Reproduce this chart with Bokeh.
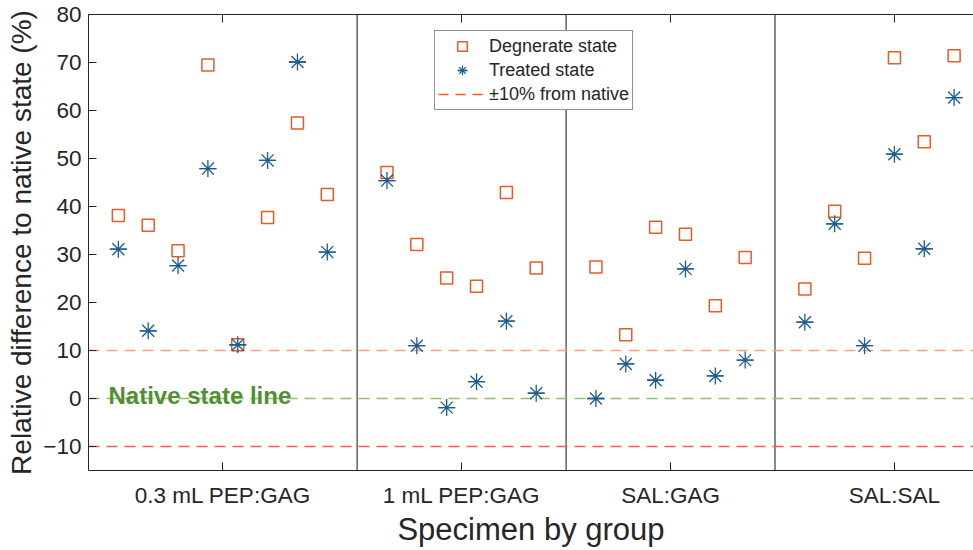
from bokeh.plotting import figure
from bokeh.models import (Range1d, FixedTicker, LinearAxis, Span, Label,
                          Legend, LegendItem, ColumnDataSource,
                          CustomJSTickFormatter)
from bokeh.embed import file_html
from bokeh.resources import INLINE

# ---------------- data ----------------
groups = ["0.3 mL PEP:GAG", "1 mL PEP:GAG", "SAL:GAG", "SAL:SAL"]
group_tick_pos = [4.5, 12.5, 19.5, 27.0]
separators = [9, 16, 23]
specimen_pos = [1, 2, 3, 4, 5, 6, 7, 8,
                10, 11, 12, 13, 14, 15,
                17, 18, 19, 20, 21, 22,
                24, 25, 26, 27, 28, 29]
degenerate = [38.1, 36.1, 30.8, 69.5, 11.2, 37.7, 57.4, 42.5,
              47.1, 32.1, 25.1, 23.4, 42.9, 27.2,
              27.4, 13.3, 35.7, 34.2, 19.3, 29.4,
              22.8, 39.0, 29.2, 71.0, 53.5, 71.4]
treated = [31.1, 14.1, 27.7, 47.9, 11.2, 49.6, 70.1, 30.5,
           45.4, 11.0, -1.9, 3.5, 16.1, 1.1,
           0.0, 7.2, 3.8, 27.0, 4.7, 8.0,
           15.9, 36.4, 11.0, 50.9, 31.2, 62.7]
y_ticks = [-10, 0, 10, 20, 30, 40, 50, 60, 70, 80]
tolerance = [10, -10]
native = 0

FONT = "Liberation Sans"
INK = "#262626"
SQ_COLOR = "#e85a26"
ST_COLOR = "#1c5d8e"

src = ColumnDataSource(data=dict(x=specimen_pos, deg=degenerate, trt=treated))

p = figure(width=973, height=550,
           x_range=Range1d(0, 29.65), y_range=Range1d(-15, 80),
           output_backend="svg", toolbar_location=None,
           min_border_left=88, min_border_right=0,
           min_border_top=14, min_border_bottom=80,
           outline_line_color=None, background_fill_color="white",
           border_fill_color="white")
p.grid.visible = False

# ---- axes ----
xa = p.xaxis[0]
xa.ticker = FixedTicker(ticks=group_tick_pos)
xa.major_label_overrides = {t: g for t, g in zip(group_tick_pos, groups)}
xa.axis_label = "Specimen by group"
ya = p.yaxis[0]
ya.ticker = FixedTicker(ticks=y_ticks)
ya.axis_label = "Relative difference to native state (%)"

for ax in (xa, ya):
    ax.major_tick_in = 8
    ax.major_tick_out = 0
    ax.minor_tick_line_color = None
    ax.axis_line_color = INK
    ax.major_tick_line_color = INK
    ax.major_label_text_font = FONT
    ax.major_label_text_font_size = "22.5px"
    ax.major_label_text_color = INK
    ax.axis_label_text_font = FONT
    ax.axis_label_text_font_style = "normal"
    ax.axis_label_text_color = INK

xa.major_label_standoff = 12
xa.axis_label_text_font_size = "31px"
xa.axis_label_standoff = 1
ya.major_label_standoff = 7
ya.axis_label_text_font_size = "28px"
ya.axis_label_standoff = 3

top = LinearAxis(ticker=FixedTicker(ticks=group_tick_pos),
                 formatter=CustomJSTickFormatter(code="return ''"),
                 major_label_text_font_size="1px", major_label_standoff=0,
                 major_tick_in=8, major_tick_out=0,
                 minor_tick_line_color=None,
                 axis_line_color=INK, major_tick_line_color=INK)
p.add_layout(top, "above")

# ---- reference lines ----
for s in separators:
    p.add_layout(Span(location=s, dimension="height", line_color="#3c3c3c",
                      line_width=1.2, level="underlay"))
p.add_layout(Span(location=tolerance[0], dimension="width", line_color="#f9a081",
                  line_dash="11 7", line_width=1.7, level="underlay"))
p.add_layout(Span(location=tolerance[1], dimension="width", line_color="#ff5656",
                  line_dash="11 7", line_width=1.7, level="underlay"))
p.add_layout(Span(location=native, dimension="width", line_color="#8fc06c",
                  line_dash="11 7", line_width=1.7, level="underlay"))

p.add_layout(Label(x=0.67, y=0.6, text="Native state line", text_font=FONT,
                   text_font_style="bold", text_font_size="24px",
                   text_color="#4f9030", text_baseline="alphabetic"))

# ---- markers ----
sq = p.scatter("x", "deg", source=src, marker="square", size=12,
               fill_color=None, line_color=SQ_COLOR, line_width=1.5)
st1 = p.scatter("x", "trt", source=src, marker="asterisk", size=17,
                line_color=ST_COLOR, line_width=1.3)
st2 = p.scatter("x", "trt", source=src, marker="dash", size=17,
                line_color=ST_COLOR, line_width=1.3)
tol = p.line(x=[float("nan")], y=[float("nan")], line_color="#ff5a14",
             line_dash="10 7", line_width=1.6)

legend = Legend(items=[LegendItem(label="Degnerate state", renderers=[sq]),
                       LegendItem(label="Treated state", renderers=[st1, st2]),
                       LegendItem(label="±10% from native", renderers=[tol])],
                location=(346, 360), orientation="vertical",
                margin=0, padding=3, spacing=0,
                glyph_width=48, glyph_height=24, label_height=24,
                label_standoff=3,
                label_text_font=FONT, label_text_font_size="18px",
                label_text_color=INK,
                border_line_color=INK, border_line_width=1,
                background_fill_color="white", background_fill_alpha=1)
p.add_layout(legend)

open("out.html", "w").write(file_html(p, INLINE))
